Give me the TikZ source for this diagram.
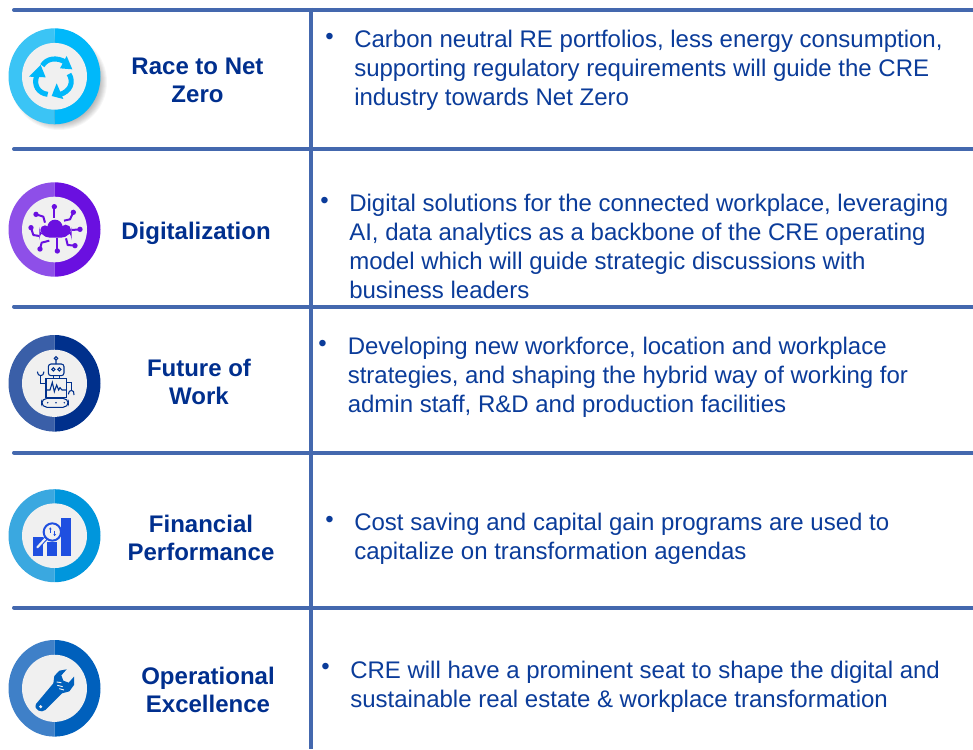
\documentclass[tikz,border=0pt]{standalone}
\usepackage{fontspec}
\setmainfont{Liberation Sans}
\definecolor{rule}{HTML}{4468AE}
\definecolor{titlec}{HTML}{002F8E}
\definecolor{bodyc}{HTML}{0B3C9A}
\definecolor{disc}{HTML}{F0F0F0}
\definecolor{a1}{HTML}{3BC4F5}\definecolor{a2}{HTML}{00B8FA}
\definecolor{b1}{HTML}{8E4FE8}\definecolor{b2}{HTML}{6A10E0}
\definecolor{c1}{HTML}{3A5FA8}\definecolor{c2}{HTML}{00308C}
\definecolor{d1}{HTML}{3AA8E0}\definecolor{d2}{HTML}{0096DC}
\definecolor{e1}{HTML}{3F80C8}\definecolor{e2}{HTML}{0060BC}
\definecolor{chartc}{HTML}{1F4FE0}
\tikzset{
  x=.75pt,y=.75pt,
  rulel/.style={rule,line width=3pt},
  title/.style={font=\fontsize{18}{21}\selectfont\bfseries,text=titlec,align=center,inner sep=0pt},
  body/.style={font=\fontsize{18}{21.75}\selectfont,text=bodyc,align=left,anchor=north west,inner sep=0pt},
  bullet/.style={font=\fontsize{18}{21.75}\selectfont,text=bodyc,inner sep=0pt,anchor=north west},
}
\newcommand{\badge}[6]{% x y ry left right name
  \fill[#4] (#1,#2+#3) arc[start angle=90,end angle=270,x radius=46,y radius=#3] -- cycle;
  \fill[#5] (#1,#2+#3) arc[start angle=90,end angle=-90,x radius=46,y radius=#3] -- cycle;
  \coordinate (#6) at (#1,#2);
  \fill[disc] (#1,#2) ellipse[x radius=32.5,y radius=#3*0.695];
}
\begin{document}
\begin{tikzpicture}
\useasboundingbox (0,0) rectangle (973,-749);
\fill[white] (0,0) rectangle (973,-749);
% rules
\coordinate (h1a) at (14,-10); \coordinate (h1b) at (973,-10);
\coordinate (h2a) at (14,-149); \coordinate (h2b) at (973,-149);
\coordinate (h3a) at (14,-306.5); \coordinate (h3b) at (973,-306.5);
\coordinate (h4a) at (14,-452.5); \coordinate (h4b) at (973,-452.5);
\coordinate (h5a) at (14,-607.5); \coordinate (h5b) at (973,-607.5);
\coordinate (va) at (311,-8); \coordinate (vb) at (311,-749);
\foreach \n in {1,...,5} \draw[rulel,line cap=round] (h\n a) -- (h\n b);
\draw[rulel] (va) -- (vb);
% shadow of first badge
\foreach \r in {48,47,...,37} \fill[black,opacity=.035] (59,-82) circle (\r);
% badges
\badge{54.5}{-76.3}{48}{a1}{a2}{i1}
\badge{54.5}{-229.5}{47.2}{b1}{b2}{i2}
\badge{54.5}{-383.3}{48.3}{c1}{c2}{i3}
\badge{54.5}{-535.7}{46.5}{d1}{d2}{i4}
\badge{54.5}{-688.3}{48.3}{e1}{e2}{i5}
% icon 1: three circling arrows (reference zoom coords)
\begin{scope}[xshift=0pt,yshift=0pt,x=.25pt,y=-.25pt]
 \begin{scope}[a2,line width=3.8pt]
 \draw (127,197) .. controls (140,175) and (170,170) .. (197,187);
 \fill (200,168) -- (217,208) -- (180,205) -- cycle;
 \draw (143,283) .. controls (115,280) and (100,255) .. (110,228);
 \fill (87,230) -- (122,195) -- (137,232) -- cycle;
 \draw (207,222) .. controls (222,245) and (212,275) .. (178,284);
 \fill (190,297) -- (155,288) -- (170,250) -- cycle;
 \end{scope}
\end{scope}
% icon 2: cloud and circuit
\begin{scope}[xshift=0pt,yshift=-127.5pt,x=.25pt,y=-.25pt]
 \fill[b2,rounded corners=8pt] (118,203) -- (118,178) -- (215,178) -- (215,203) -- cycle;
 \fill[b2] (135,180) circle (14) (165,172) circle (23) (197,180) circle (16);
 \begin{scope}[b2,line width=1.5pt,line join=round]
 \draw (163,110) -- (163,145);
 \draw (108,133) -- (130,140) -- (135,158);
 \draw (220,127) -- (210,148) -- (192,152);
 \draw (93,173) -- (100,195) -- (118,198);
 \draw (240,178) -- (216,180);
 \draw (120,237) -- (125,218) -- (148,212);
 \draw (172,243) -- (172,205);
 \draw (225,227) -- (203,225) -- (198,205);
 \end{scope}
 \foreach \p in {(163,110),(108,133),(220,127),(93,173),(240,178),(120,237),(172,243),(225,227)}
   \fill[b2] \p circle (8);
\end{scope}
% icon 3: robot
\begin{scope}[xshift=0pt,yshift=-243.75pt,x=.25pt,y=-.25pt,c2,line width=.8pt]
 \draw[rounded corners=2pt] (145,117) rectangle (192,152);
 \draw (160,133) circle (5) (178,133) circle (5);
 \draw (168,100) circle (5) (168,105) -- (168,117);
 \draw (160,152) -- (160,160) (178,152) -- (178,160);
 \draw (138,160) rectangle (200,218);
 \draw (138,195) -- (150,195) -- (157,172) -- (163,200) -- (170,180) -- (176,195) -- (180,188) -- (186,195) -- (200,195);
 \draw (138,175) -- (122,175) -- (122,152);
 \draw (112,140) .. controls (112,156) and (132,156) .. (132,140);
 \draw (200,172) -- (215,172) -- (215,198);
 \draw (205,208) .. controls (205,192) and (225,192) .. (222,210);
 \draw[rounded corners=4pt] (125,220) rectangle (205,247);
 \foreach \xx in {143,168,193} \fill (\xx,233) circle (2.5);
\end{scope}
% icon 4: chart
\begin{scope}[xshift=0pt,yshift=-360pt,x=.25pt,y=-.25pt]
 \fill[chartc] (100,172) rectangle (130,228);
 \fill[chartc] (140,186) rectangle (172,228);
 \fill[chartc] (183,113) rectangle (213,228);
 \draw[chartc,line width=3.2pt,line cap=round] (112,202) -- (136,176);
 \draw[disc,line width=1.6pt,line cap=round] (112,202) -- (136,176);
 \fill[disc,draw=chartc,line width=1.5pt] (157,156) circle (26);
 \draw[chartc,line width=.9pt] (151,144) -- (151,160) (164,152) -- (164,168);
 \fill[chartc] (147,148) -- (151,142) -- (155,148) -- cycle;
 \fill[chartc] (160,162) -- (164,168) -- (168,162) -- cycle;
\end{scope}
% icon 5: wrench
\begin{scope}[xshift=0pt,yshift=-472.5pt,x=.25pt,y=-.25pt]
 \fill[e2,line join=round] (108,222) -- (160,160) -- (163,138) -- (178,122) -- (200,118)
   -- (184,136) -- (190,152) -- (206,158) -- (222,140) -- (222,165) -- (208,184) -- (186,190) -- (136,240)
   .. controls (125,250) and (100,240) .. (108,222) -- cycle;
 \fill[disc] (122,230) circle (5);
 \draw[disc,line width=.7pt] (170,156) -- (184,158) (172,166) -- (188,170) (178,176) -- (192,180);
\end{scope}
% left titles
\node[title] (t1) at (197.5,-80) {Race to Net\\Zero};
\node[title] (t2) at (196,-233.5) {Digitalization};
\node[title] (t3) at (199,-382) {Future of\\Work};
\node[title] (t4) at (201,-538) {Financial\\Performance};
\node[title] (t5) at (208,-690) {Operational\\Excellence};
% body text
\node[bullet] (u1) at (325,-33) {•};
\node[body] (d1) at (354,-30) {Carbon neutral RE portfolios, less energy consumption,\\supporting regulatory requirements will guide the CRE\\industry towards Net Zero};
\node[bullet] (u2) at (320,-197) {•};
\node[body] (d2) at (349,-193.5) {Digital solutions for the connected workplace, leveraging\\AI, data analytics as a backbone of the CRE operating\\model which will guide strategic discussions with\\business leaders};
\node[bullet] (u3) at (318,-340) {•};
\node[body] (d3) at (347.5,-337) {Developing new workforce, location and workplace\\strategies, and shaping the hybrid way of working for\\admin staff, R\&D and production facilities};
\node[bullet] (u4) at (325,-516) {•};
\node[body] (d4) at (354,-513) {Cost saving and capital gain programs are used to\\capitalize on transformation agendas};
\node[bullet] (u5) at (321,-663) {•};
\node[body] (d5) at (350,-661) {CRE will have a prominent seat to shape the digital and\\sustainable real estate \& workplace transformation};
\end{tikzpicture}
\end{document}
